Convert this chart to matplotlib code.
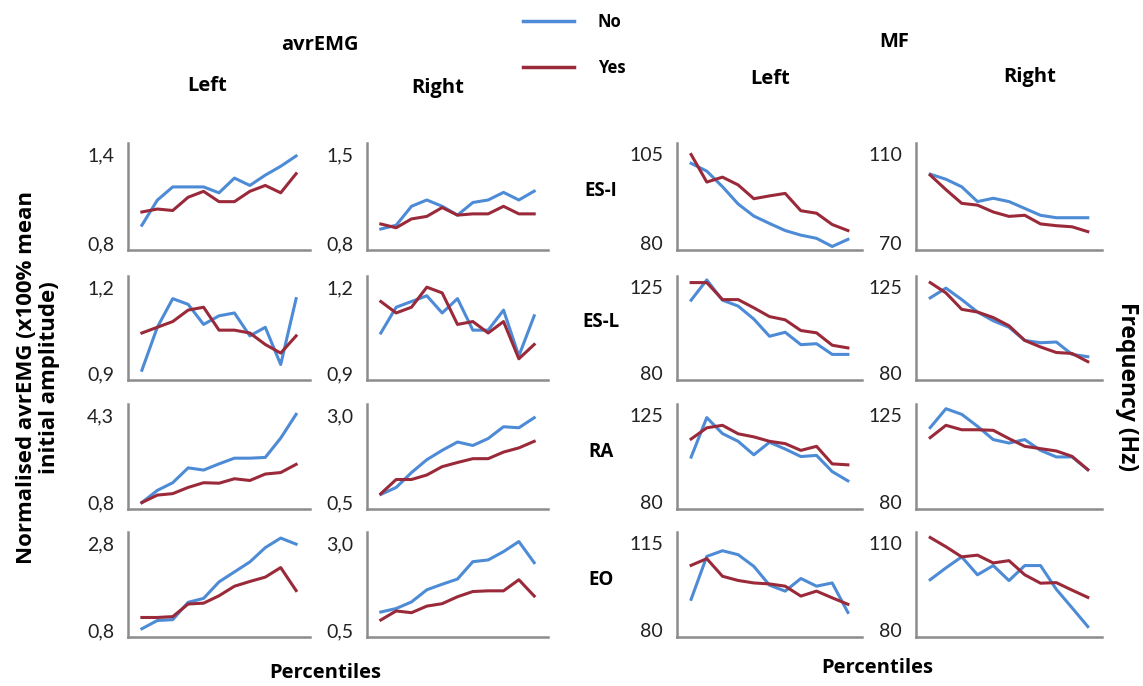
import matplotlib
matplotlib.use("Agg")
import matplotlib.pyplot as plt
from matplotlib.lines import Line2D

plt.rcParams['font.family'] = ['Lato', 'DejaVu Sans']
BOLD_FONT = ['Open Sans', 'DejaVu Sans']

percentiles = [0, 10, 20, 30, 40, 50, 60, 70, 80, 90, 100]
muscles = ["ES-I", "ES-L", "RA", "EO"]

# avrEMG, left side
emg_l_esi_no = [0.92, 1.09, 1.18, 1.18, 1.18, 1.14, 1.24, 1.19, 1.26, 1.32, 1.39]
emg_l_esi_yes = [1.01, 1.03, 1.02, 1.11, 1.15, 1.08, 1.08, 1.15, 1.19, 1.14, 1.27]
emg_l_esl_no = [0.91, 1.06, 1.16, 1.14, 1.07, 1.10, 1.11, 1.03, 1.06, 0.93, 1.16]
emg_l_esl_yes = [1.04, 1.06, 1.08, 1.12, 1.13, 1.05, 1.05, 1.04, 1.00, 0.97, 1.03]
emg_l_ra_no = [0.78, 1.27, 1.58, 2.18, 2.09, 2.34, 2.57, 2.57, 2.60, 3.38, 4.34]
emg_l_ra_yes = [0.78, 1.08, 1.14, 1.39, 1.58, 1.56, 1.74, 1.67, 1.93, 1.99, 2.32]
emg_l_eo_no = [0.83, 1.02, 1.04, 1.44, 1.53, 1.91, 2.14, 2.37, 2.70, 2.92, 2.78]
emg_l_eo_yes = [1.09, 1.09, 1.11, 1.40, 1.42, 1.59, 1.81, 1.92, 2.02, 2.24, 1.71]

# avrEMG, right side
emg_r_esi_no = [0.91, 0.94, 1.09, 1.14, 1.09, 1.02, 1.12, 1.14, 1.20, 1.14, 1.21]
emg_r_esi_yes = [0.95, 0.92, 0.99, 1.01, 1.08, 1.02, 1.03, 1.03, 1.09, 1.03, 1.03]
emg_r_esl_no = [1.04, 1.13, 1.15, 1.17, 1.11, 1.16, 1.05, 1.05, 1.12, 0.96, 1.10]
emg_r_esl_yes = [1.15, 1.11, 1.13, 1.20, 1.18, 1.07, 1.08, 1.04, 1.08, 0.95, 1.00]
emg_r_ra_no = [0.72, 0.92, 1.35, 1.72, 1.99, 2.23, 2.13, 2.33, 2.67, 2.64, 2.93]
emg_r_ra_yes = [0.74, 1.15, 1.15, 1.28, 1.52, 1.64, 1.75, 1.75, 1.94, 2.06, 2.25]
emg_r_eo_no = [1.02, 1.12, 1.31, 1.66, 1.82, 1.97, 2.47, 2.52, 2.76, 3.05, 2.44]
emg_r_eo_yes = [0.79, 1.05, 1.00, 1.19, 1.26, 1.46, 1.61, 1.63, 1.63, 1.95, 1.48]

# MF, left side
mf_l_esi_no = [102.5, 100.3, 95.9, 91.0, 87.6, 85.5, 83.5, 82.2, 81.3, 79.0, 81.0]
mf_l_esi_yes = [105.0, 97.2, 98.6, 96.4, 92.5, 93.3, 94.0, 89.1, 88.4, 85.2, 83.5]
mf_l_esl_no = [118.2, 128.8, 118.2, 115.1, 108.3, 99.3, 101.4, 94.9, 95.4, 89.8, 89.8]
mf_l_esl_yes = [127.4, 127.4, 118.5, 118.5, 114.2, 109.6, 107.9, 102.3, 101.1, 94.6, 93.2]
mf_l_ra_no = [103.3, 123.8, 115.5, 111.5, 104.5, 111.0, 107.5, 103.6, 104.2, 95.8, 91.0]
mf_l_ra_yes = [112.7, 118.5, 119.8, 115.4, 113.8, 111.5, 110.3, 106.8, 108.9, 99.8, 99.3]
mf_l_eo_no = [92.4, 109.7, 112.0, 110.4, 105.7, 98.1, 95.7, 100.8, 97.7, 99.0, 87.1]
mf_l_eo_yes = [106.1, 108.8, 101.7, 100.0, 99.0, 98.6, 97.7, 93.7, 95.7, 93.0, 90.4]

# MF, right side
mf_r_esi_no = [101.1, 98.8, 95.4, 88.7, 90.2, 88.7, 85.6, 82.5, 81.4, 81.4, 81.4]
mf_r_esi_yes = [100.7, 94.1, 87.9, 87.1, 84.0, 82.0, 82.5, 78.6, 77.8, 77.3, 75.1]
mf_r_esl_no = [119.4, 124.5, 118.5, 112.0, 107.4, 104.0, 97.1, 95.9, 96.3, 89.8, 88.6]
mf_r_esl_yes = [127.4, 122.0, 113.4, 112.0, 109.1, 104.8, 97.1, 93.7, 90.8, 90.3, 86.0]
mf_r_ra_no = [118.6, 128.4, 125.5, 119.3, 112.4, 110.6, 112.4, 106.8, 103.4, 103.4, 96.8]
mf_r_ra_yes = [113.4, 119.8, 117.5, 117.5, 117.2, 112.9, 108.9, 107.7, 106.5, 103.7, 96.8]
mf_r_eo_no = [97.4, 101.5, 105.3, 99.1, 102.3, 97.1, 102.3, 102.3, 94.1, 87.7, 81.2]
mf_r_eo_yes = [112.0, 108.8, 105.3, 105.9, 103.2, 104.0, 99.1, 96.2, 96.4, 93.8, 91.3]

# axis end values shown as tick labels (low, high)
emg_l_ticks = [(0.8, 1.4), (0.9, 1.2), (0.8, 4.3), (0.8, 2.8)]
emg_r_ticks = [(0.8, 1.5), (0.9, 1.2), (0.5, 3.0), (0.5, 3.0)]
mf_l_ticks = [(80, 105), (80, 125), (80, 125), (80, 115)]
mf_r_ticks = [(70, 110), (80, 125), (80, 125), (80, 110)]

columns = [
    ([(emg_l_esi_no, emg_l_esi_yes), (emg_l_esl_no, emg_l_esl_yes),
      (emg_l_ra_no, emg_l_ra_yes), (emg_l_eo_no, emg_l_eo_yes)], emg_l_ticks, True),
    ([(emg_r_esi_no, emg_r_esi_yes), (emg_r_esl_no, emg_r_esl_yes),
      (emg_r_ra_no, emg_r_ra_yes), (emg_r_eo_no, emg_r_eo_yes)], emg_r_ticks, True),
    ([(mf_l_esi_no, mf_l_esi_yes), (mf_l_esl_no, mf_l_esl_yes),
      (mf_l_ra_no, mf_l_ra_yes), (mf_l_eo_no, mf_l_eo_yes)], mf_l_ticks, False),
    ([(mf_r_esi_no, mf_r_esi_yes), (mf_r_esl_no, mf_r_esl_yes),
      (mf_r_ra_no, mf_r_ra_yes), (mf_r_eo_no, mf_r_eo_yes)], mf_r_ticks, False),
]

blue = '#4d8bd6'
red = '#9a2a3a'
spine_col = '#8c8c8c'

W, H = 1143, 686
fig = plt.figure(figsize=(W / 100, H / 100), dpi=100)

# panel placement in pixels
col_px = [(128, 310), (367, 548), (677, 862), (916, 1102)]
row_px = [(143, 250), (276, 380), (404, 509), (532, 637)]


def fmt(v, comma):
    if comma:
        return f"{v:.1f}".replace('.', ',')
    return f"{v:g}"


for ci, (series, ticks, comma) in enumerate(columns):
    x0, x1 = col_px[ci]
    for ri, (no, yes) in enumerate(series):
        top, bot = row_px[ri]
        ax = fig.add_axes([x0 / W, 1 - bot / H, (x1 - x0) / W, (bot - top) / H])
        ax.plot(percentiles, no, color=blue, lw=2.2)
        ax.plot(percentiles, yes, color=red, lw=2.2)
        lo, hi = ticks[ri]
        span = hi - lo
        ax.set_ylim(lo - 0.08 * span, hi + 0.13 * span)
        ax.set_xlim(-9, 109)
        ax.set_yticks([lo, hi])
        ax.set_yticklabels([fmt(lo, comma), fmt(hi, comma)])
        ax.set_xticks([])
        ax.tick_params(axis='y', length=0, pad=10, labelsize=14, labelcolor='#222222')
        for s in ['top', 'right']:
            ax.spines[s].set_visible(False)
        for s in ['left', 'bottom']:
            ax.spines[s].set_color(spine_col)
            ax.spines[s].set_linewidth(1.8)


def txt(x, y, s, **kw):
    fig.text(x / W, 1 - y / H, s, ha='center', va='center', fontweight='bold',
             family=BOLD_FONT, **kw)


txt(320, 45, "avrEMG", fontsize=14.5)
txt(894, 42, "MF", fontsize=14.5)
txt(207, 86, "Left", fontsize=14.5)
txt(438, 88, "Right", fontsize=14.5)
txt(770, 79, "Left", fontsize=14.5)
txt(1030, 77, "Right", fontsize=14.5)

for label, y in zip(muscles, [191, 322, 452, 580]):
    txt(601, y, label, fontsize=13.5)

txt(325, 673, "Percentiles", fontsize=14.5)
txt(877, 668, "Percentiles", fontsize=14.5)

txt(38, 378, "Normalised avrEMG (x100% mean\ninitial amplitude)", fontsize=16,
    rotation=90, linespacing=1.1)
txt(1127, 386, "Frequency (Hz)", fontsize=16.5, rotation=-90)

# legend drawn by hand at the top
fig.add_artist(Line2D([523 / W, 574 / W], [1 - 21 / H, 1 - 21 / H], color=blue, lw=2.5))
fig.add_artist(Line2D([523 / W, 574 / W], [1 - 67 / H, 1 - 67 / H], color=red, lw=2.5))
fig.text(598 / W, 1 - 22 / H, "No", ha='left', va='center', fontweight='bold',
         family=BOLD_FONT, fontsize=12)
fig.text(598 / W, 1 - 68 / H, "Yes", ha='left', va='center', fontweight='bold',
         family=BOLD_FONT, fontsize=12)

fig.savefig("out.png", dpi=100)
